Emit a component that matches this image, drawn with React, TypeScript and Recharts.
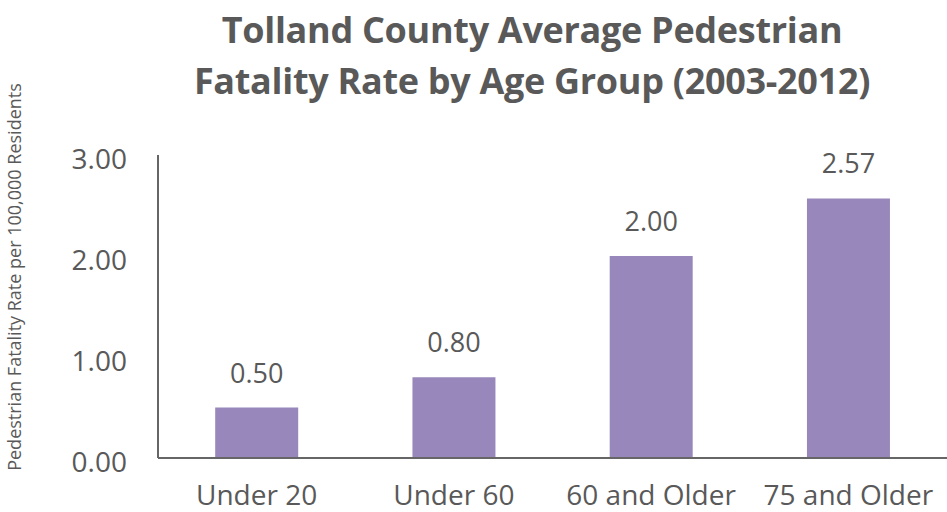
import { BarChart, Bar, XAxis, YAxis, LabelList } from "recharts";

// Age groups and average fatality rate per 100,000 residents
const ageGroups = ["Under 20", "Under 60", "60 and Older", "75 and Older"];
const rates = [0.5, 0.8, 2.0, 2.57];
const yTicks = [0, 1, 2, 3];

const data = ageGroups.map((group, i) => ({ group, rate: rates[i] }));

const colors = {
  bar: "#9887ba",
  text: "#595959",
  axis: "#666666",
};

const font = "'Open Sans', sans-serif";

const App = () => {
  return (
    <div
      style={{
        position: "absolute",
        left: 0,
        top: 0,
        width: 947,
        height: 512,
        background: "#fff",
        fontFamily: font,
        color: colors.text,
      }}
    >
      {/* Title */}
      <div
        style={{
          position: "absolute",
          left: 0,
          top: 4,
          width: 1064,
          textAlign: "center",
          fontSize: 36,
          fontWeight: 700,
          lineHeight: "51px",
          letterSpacing: -0.3,
        }}
      >
        Tolland County Average Pedestrian
        <br />
        Fatality Rate by Age Group (2003-2012)
      </div>

      {/* Y axis title */}
      <div
        style={{
          position: "absolute",
          left: 14,
          top: 277,
          width: 480,
          fontSize: 18,
          textAlign: "center",
          whiteSpace: "nowrap",
          transform: "translate(-50%, -50%) rotate(-90deg)",
        }}
      >
        Pedestrian Fatality Rate per 100,000 Residents
      </div>

      <BarChart
        width={947}
        height={512}
        data={data}
        margin={{ top: 155, right: 0, bottom: 0, left: 0 }}
        barCategoryGap="29%"
        style={{ position: "absolute", left: 0, top: 0 }}
      >
        <XAxis
          dataKey="group"
          axisLine={{ stroke: colors.axis, strokeWidth: 2 }}
          tickLine={false}
          tickSize={0}
          tickMargin={27}
          height={54}
          tick={{ fill: colors.text, fontSize: 28, fontFamily: font }}
          interval={0}
        />
        <YAxis
          domain={[0, 3]}
          ticks={yTicks}
          width={158}
          axisLine={{ stroke: colors.axis, strokeWidth: 2 }}
          tickLine={false}
          tickSize={0}
          tickMargin={31}
          tickFormatter={(v: number) => v.toFixed(2)}
          tick={{ fill: colors.text, fontSize: 28, fontFamily: font, dy: 4 }}
        />
        <Bar dataKey="rate" fill={colors.bar} isAnimationActive={false}>
          <LabelList
            dataKey="rate"
            position="top"
            offset={25}
            formatter={(v: number) => v.toFixed(2)}
            style={{ fill: colors.text, fontSize: 27, fontFamily: font }}
          />
        </Bar>
      </BarChart>
    </div>
  );
};

export default App;
